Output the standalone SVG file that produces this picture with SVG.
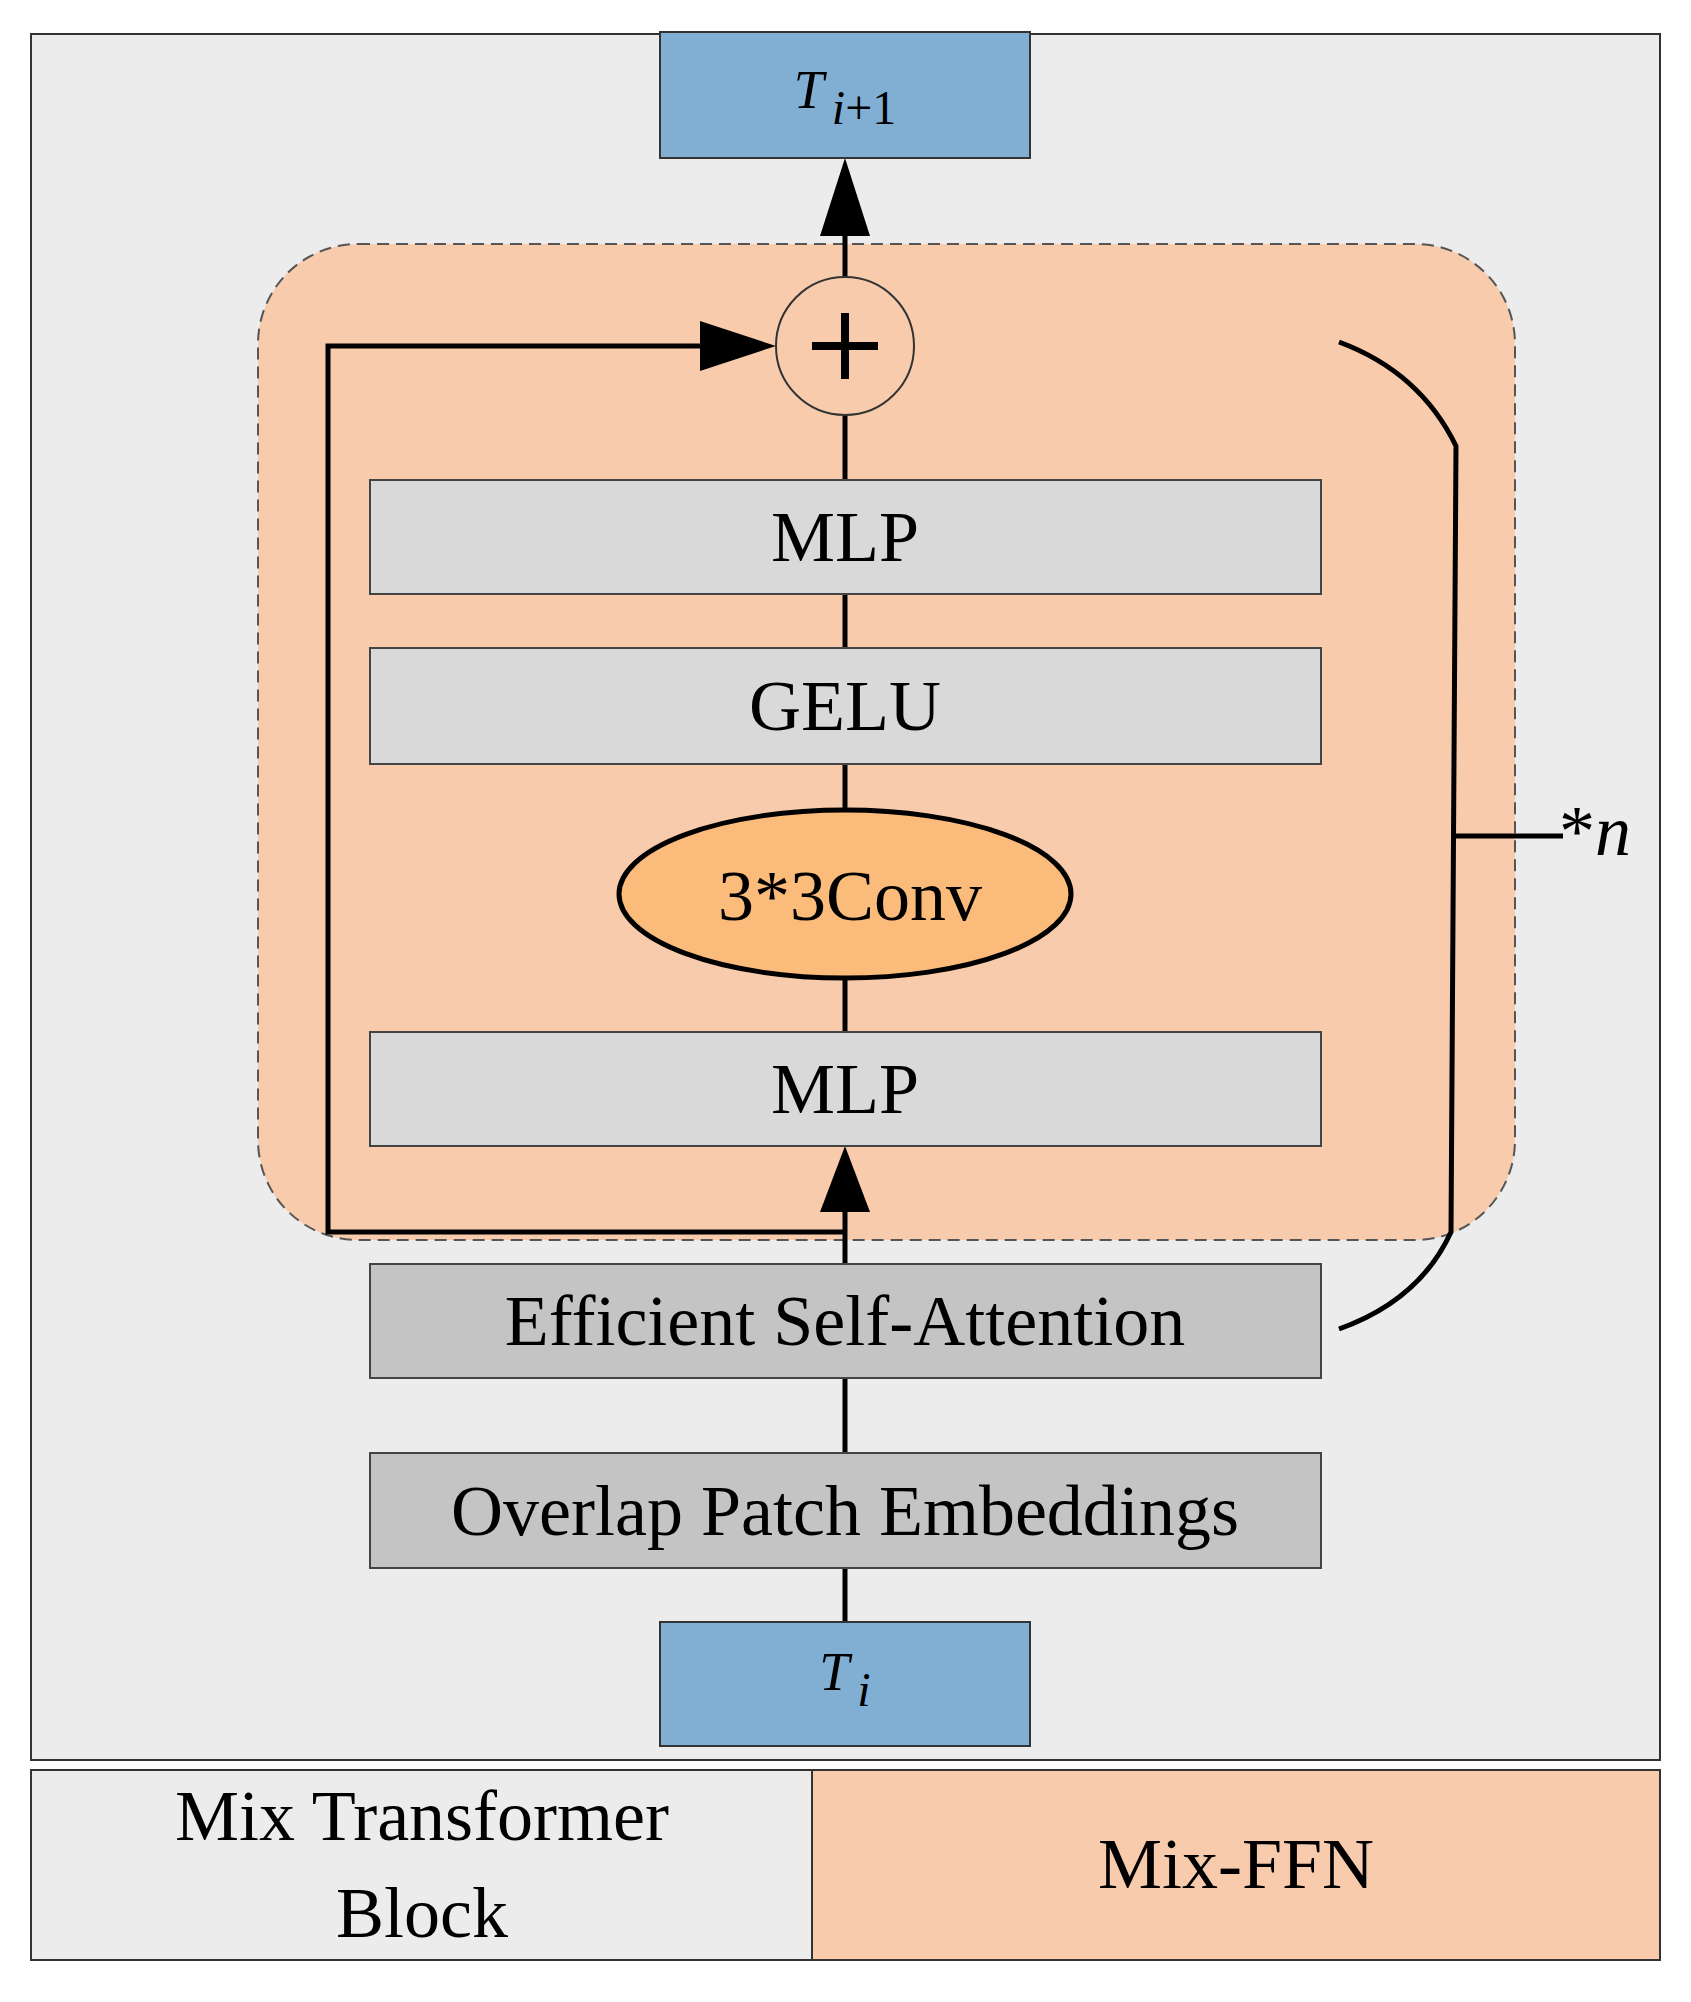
<svg xmlns="http://www.w3.org/2000/svg" width="1691" height="2002" viewBox="0 0 1691 2002">
<style>
text{font-family:"Liberation Serif","Times New Roman",serif;fill:#000;text-anchor:middle}
.box{fill:#d9d9d9;stroke:#444;stroke-width:2}
.dbox{fill:#c4c4c4;stroke:#444;stroke-width:2}
.blue{fill:#80afd3;stroke:#333;stroke-width:2}
.lbl{font-size:72px}
.ln{stroke:#000;stroke-width:5;fill:none}
</style>
<defs>
<marker id="ah" viewBox="0 0 10 10" refX="10" refY="5" markerWidth="8" markerHeight="8" markerUnits="userSpaceOnUse" orient="auto"><path d="M0,0L10,5L0,10z" fill="#000"/></marker>
</defs>
<rect x="0" y="0" width="1691" height="2002" fill="#fff"/>
<rect id="outer" x="31" y="34" width="1629" height="1726" fill="#ececec" stroke="#333" stroke-width="2"/>
<g id="legend">
<rect x="31" y="1770" width="781" height="190" fill="#ececec" stroke="#333" stroke-width="2"/>
<rect x="812" y="1770" width="848" height="190" fill="#f7cbac" stroke="#333" stroke-width="2"/>
<text class="lbl" x="422" y="1840">Mix Transformer</text>
<text class="lbl" x="422" y="1937">Block</text>
<text class="lbl" x="1236" y="1888">Mix-FFN</text>
</g>
<g id="mixffn"><rect x="258" y="244" width="1257" height="996" rx="100" fill="#f7cbac" stroke="#555" stroke-width="2" stroke-dasharray="12,7"/></g>
<g id="connectors">
<line class="ln" x1="845" y1="1622" x2="845" y2="1568"/>
<line class="ln" x1="845" y1="1453" x2="845" y2="1378"/>
<line class="ln" x1="845" y1="1264" x2="845" y2="1212"/>
<path d="M820,1212L845,1146L870,1212z" fill="#000"/>
<line class="ln" x1="845" y1="1032" x2="845" y2="978"/>
<line class="ln" x1="845" y1="810" x2="845" y2="764"/>
<line class="ln" x1="845" y1="648" x2="845" y2="594"/>
<line class="ln" x1="845" y1="480" x2="845" y2="415"/>
<line class="ln" x1="845" y1="277" x2="845" y2="236"/>
<path d="M820,236L845,158L870,236z" fill="#000"/>
<polyline class="ln" points="845,1232 328,1232 328,346 700,346"/>
<path d="M700,321L776,346L700,371z" fill="#000"/>
<path class="ln" d="M1339,342Q1420,372 1456,446L1451,1232Q1420,1300 1339,1329"/>
<line class="ln" x1="1456" y1="836" x2="1563" y2="836"/>
</g>
<g id="plus"><circle cx="845" cy="346" r="69" fill="#f7cbac" stroke="#333" stroke-width="2"/>
<path d="M845,313V379M812,346H878" stroke="#000" stroke-width="8"/></g>
<g id="tnext"><rect class="blue" x="660" y="32" width="370" height="126"/>
<text x="845" y="108" font-size="54" font-style="italic">T<tspan font-size="48" dx="8" dy="16">i</tspan><tspan font-size="48" font-style="normal">+1</tspan></text></g>
<g id="mlp2"><rect class="box" x="370" y="480" width="951" height="114"/><text class="lbl" x="845" y="561">MLP</text></g>
<g id="gelu"><rect class="box" x="370" y="648" width="951" height="116"/><text class="lbl" x="845" y="730">GELU</text></g>
<g id="conv"><ellipse cx="845" cy="894" rx="226" ry="84" fill="#fbbb7b" stroke="#000" stroke-width="5"/><text class="lbl" x="850" y="920">3*3Conv</text></g>
<g id="mlp1"><rect class="box" x="370" y="1032" width="951" height="114"/><text class="lbl" x="845" y="1113">MLP</text></g>
<g id="esa"><rect class="dbox" x="370" y="1264" width="951" height="114"/><text class="lbl" x="845" y="1345">Efficient Self-Attention</text></g>
<g id="ope"><rect class="dbox" x="370" y="1453" width="951" height="115"/><text class="lbl" x="845" y="1535">Overlap Patch Embeddings</text></g>
<g id="ti"><rect class="blue" x="660" y="1622" width="370" height="124"/>
<text x="845" y="1690" font-size="54" font-style="italic">T<tspan font-size="48" dx="8" dy="16">i</tspan></text></g>
<g id="n"><text x="1595" y="855" font-size="72"><tspan>*</tspan><tspan font-style="italic">n</tspan></text></g>
</svg>
